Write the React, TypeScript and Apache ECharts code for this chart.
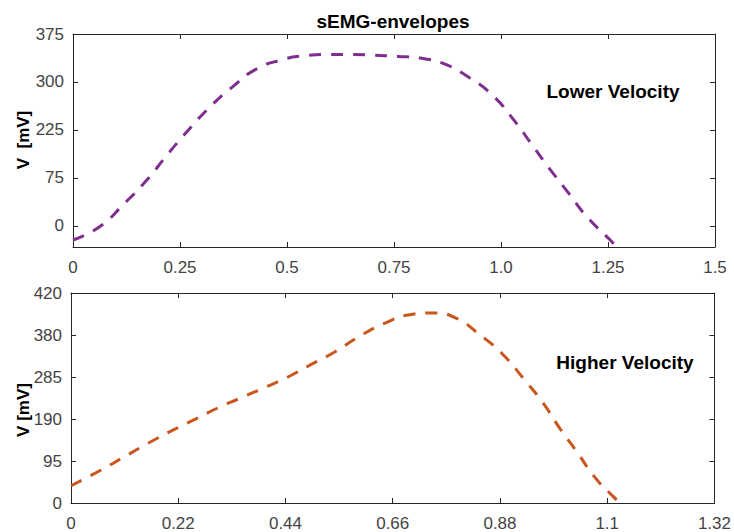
import React, { useEffect, useRef } from "react";
import * as echarts from "echarts";

// Upper panel (Lower Velocity)
const TOP_X = [0, 0.063, 0.117, 0.173, 0.22, 0.266, 0.32, 0.372, 0.425, 0.484, 0.542, 0.6, 0.65, 0.7, 0.759, 0.815, 0.869, 0.923, 0.979, 1.033, 1.072, 1.115, 1.157, 1.201, 1.255, 1.266];
const TOP_Y = [-22, -1, 33, 72, 111, 147, 186, 217, 244, 259, 266, 268, 268, 267, 265, 262, 253, 233, 205, 163, 127, 88, 52, 14, -22, -30];
const TOP_X_TICKS = [0, 0.25, 0.5, 0.75, 1, 1.25, 1.5];
const TOP_X_LABELS = ["0", "0.25", "0.5", "0.75", "1.0", "1.25", "1.5"];
const TOP_Y_TICKS = [0, 75, 150, 225, 300];
const TOP_Y_LABELS = ["0", "75", "225", "300", "375"];

// Lower panel (Higher Velocity)
const BOT_X = [0, 0.059, 0.107, 0.158, 0.206, 0.254, 0.301, 0.349, 0.397, 0.445, 0.492, 0.54, 0.592, 0.644, 0.695, 0.743, 0.79, 0.838, 0.886, 0.93, 0.968, 1.002, 1.037, 1.074, 1.111, 1.125];
const BOT_Y = [39, 73, 103, 135, 163, 189, 215, 238, 261, 285, 313, 341, 377, 407, 426, 430, 418, 381, 336, 279, 227, 170, 117, 59, 16, 2];
const BOT_X_TICKS = [0, 0.22, 0.44, 0.66, 0.88, 1.1, 1.32];
const BOT_X_LABELS = ["0", "0.22", "0.44", "0.66", "0.88", "1.1", "1.32"];
const BOT_Y_TICKS = [0, 95, 190, 285, 380, 475];
const BOT_Y_LABELS = ["0", "95", "190", "285", "380", "420"];

const AXIS_COLOR = "#262626";
const LABEL_COLOR = "#444444";
const FONT = "Liberation Sans, Arial, sans-serif";

function labelFor(ticks: number[], labels: string[]) {
  return (v: number) => {
    let best = 0;
    for (let i = 0; i < ticks.length; i++) {
      if (Math.abs(ticks[i] - v) < Math.abs(ticks[best] - v)) best = i;
    }
    return labels[best];
  };
}

function xAxis(gridIndex: number, min: number, max: number, ticks: number[], labels: string[], top: boolean, margin: number) {
  return {
    type: "value",
    gridIndex,
    min,
    max,
    position: top ? "top" : "bottom",
    splitLine: { show: false },
    axisLine: { show: true, onZero: false, lineStyle: { color: AXIS_COLOR, width: 1 } },
    axisTick: { show: true, inside: true, length: 5, customValues: ticks, lineStyle: { color: AXIS_COLOR } },
    axisLabel: {
      show: !top,
      customValues: ticks,
      formatter: labelFor(ticks, labels),
      color: LABEL_COLOR,
      fontFamily: FONT,
      fontSize: 17,
      margin,
    },
  };
}

function yAxis(gridIndex: number, min: number, max: number, ticks: number[], labels: string[], right: boolean) {
  return {
    type: "value",
    gridIndex,
    min,
    max,
    position: right ? "right" : "left",
    splitLine: { show: false },
    axisLine: { show: true, onZero: false, lineStyle: { color: AXIS_COLOR, width: 1 } },
    axisTick: { show: true, inside: true, length: 5, customValues: ticks, lineStyle: { color: AXIS_COLOR } },
    axisLabel: {
      show: !right,
      customValues: ticks,
      formatter: labelFor(ticks, labels),
      color: LABEL_COLOR,
      fontFamily: FONT,
      fontSize: 17,
      margin: 9,
    },
  };
}

export default function App() {
  const ref = useRef<HTMLDivElement>(null);
  useEffect(() => {
    if (!ref.current) return;
    const chart = echarts.init(ref.current, undefined, { renderer: "svg" });
    const topData = TOP_X.map((x, i) => [x, TOP_Y[i]]);
    const botData = BOT_X.map((x, i) => [x, BOT_Y[i]]);
    const textStyle = (text: string, size: number) => ({
      text,
      fontFamily: FONT,
      fontWeight: "bold",
      fontSize: size,
      fill: "#000",
      align: "center",
      verticalAlign: "middle",
    });
    chart.setOption({
      animation: false,
      backgroundColor: "#ffffff",
      grid: [
        { left: 73, top: 34, width: 642, height: 213 },
        { left: 71, top: 293, width: 644, height: 211 },
      ],
      xAxis: [
        xAxis(0, 0, 1.5, TOP_X_TICKS, TOP_X_LABELS, false, 12),
        xAxis(0, 0, 1.5, TOP_X_TICKS, TOP_X_LABELS, true, 12),
        xAxis(1, 0, 1.32, BOT_X_TICKS, BOT_X_LABELS, false, 12),
        xAxis(1, 0, 1.32, BOT_X_TICKS, BOT_X_LABELS, true, 12),
      ],
      yAxis: [
        yAxis(0, -33, 300, TOP_Y_TICKS, TOP_Y_LABELS, false),
        yAxis(0, -33, 300, TOP_Y_TICKS, TOP_Y_LABELS, true),
        yAxis(1, 0, 475, BOT_Y_TICKS, BOT_Y_LABELS, false),
        yAxis(1, 0, 475, BOT_Y_TICKS, BOT_Y_LABELS, true),
      ],
      series: [
        {
          type: "line",
          xAxisIndex: 0,
          yAxisIndex: 0,
          data: topData,
          smooth: 0.5,
          showSymbol: false,
          lineStyle: { color: "#7E2F8E", width: 3, type: [12, 10] },
        },
        {
          type: "line",
          xAxisIndex: 2,
          yAxisIndex: 2,
          data: botData,
          smooth: 0.5,
          showSymbol: false,
          lineStyle: { color: "#C9561F", width: 3, type: [12, 10] },
        },
      ],
      graphic: [
        { type: "text", x: 393, y: 21, style: textStyle("sEMG-envelopes", 19) },
        { type: "text", x: 613, y: 91, style: textStyle("Lower Velocity", 19) },
        { type: "text", x: 625, y: 362, style: textStyle("Higher Velocity", 19) },
        { type: "text", x: 23, y: 140, rotation: Math.PI / 2, style: textStyle("V  [mV]", 17) },
        { type: "text", x: 23, y: 410, rotation: Math.PI / 2, style: textStyle("V [mV]", 17) },
      ],
    });
    return () => chart.dispose();
  }, []);
  return <div ref={ref} style={{ position: "fixed", left: 0, top: 0, width: 734, height: 532 }} />;
}
